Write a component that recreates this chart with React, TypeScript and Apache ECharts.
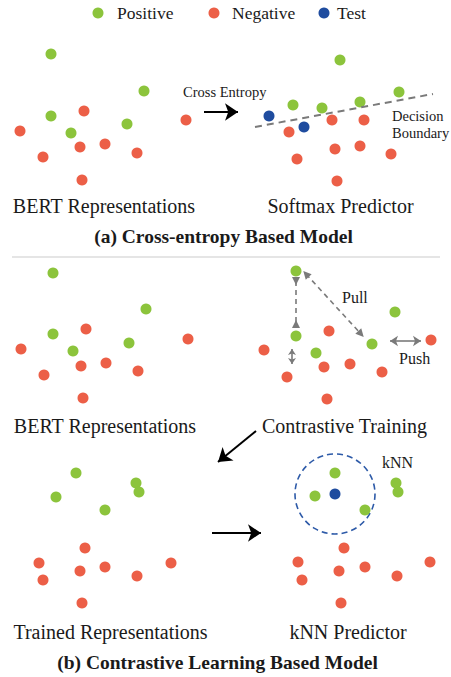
import React, { useEffect, useRef } from "react";
import * as echarts from "echarts";

// ---- data: dot positions per panel (x, y in diagram units) ----
const bertAPositive = [[51, 54], [144, 91], [51, 116], [71, 133], [127, 124]];
const bertANegative = [[84, 111], [20, 131], [80, 147], [105, 144], [43, 157], [137, 153], [82, 180], [186, 120]];
const softmaxPositive = [[340, 60], [399, 92], [293, 105], [322, 108], [360, 102]];
const softmaxNegative = [[332, 120], [364, 120], [289, 132], [335, 149], [360, 146], [297, 159], [391, 154], [337, 181]];
const softmaxTest = [[269, 116], [304, 127]];
const bertBPositive = [[53, 273], [146, 309], [53, 334], [73, 351], [129, 343]];
const bertBNegative = [[86, 329], [21, 349], [81, 366], [106, 363], [44, 375], [138, 371], [83, 398], [188, 339]];
const ctPositive = [[296, 271], [395, 312], [296, 336], [316, 353], [372, 344]];
const ctNegative = [[329, 331], [264, 350], [324, 367], [350, 364], [287, 377], [382, 372], [327, 399], [431, 340]];
const trainedPositive = [[76, 473], [56, 497], [105, 510], [136, 483], [139, 492]];
const trainedNegative = [[85, 548], [39, 563], [43, 580], [80, 571], [105, 567], [137, 576], [171, 563], [82, 603]];
const knnPositive = [[335, 473], [315, 496], [365, 510], [396, 483], [398, 492]];
const knnNegative = [[344, 548], [298, 562], [302, 580], [339, 571], [365, 567], [397, 576], [430, 562], [341, 603]];
const knnTest = [[335, 494]];

const legendNames = ["Positive", "Negative", "Test"];

// annotation segments
const blackArrows = [
  [[204, 112], [238, 112]],
  [[256, 431], [218, 462]],
  [[212, 533], [261, 533]],
];
const boundaryLine = [[[255, 127], [433, 94]]];
const pullOutArrows = [[[306, 274], [361, 334]]];
const pullInArrows = [[[296, 281], [296, 324]]];
const pushArrowsSmall = [[[292, 349], [292, 364]]];
const pushArrows = [[[390, 341], [421, 341]]];

const GREEN = "#8cc43c";
const RED = "#ec5f47";
const BLUE = "#1f4c9f";
const GRAY = "#7a7a7a";
const SERIF = "Liberation Serif";

const toML = (segs: number[][][]) => segs.map((s) => [{ coord: s[0] }, { coord: s[1] }]);

export default function App() {
  const ref = useRef<HTMLDivElement>(null);
  useEffect(() => {
    if (!ref.current) return;
    const chart = echarts.init(ref.current, null, { renderer: "svg" });

    const annot = (name: string, segs: number[][][], symbol: any, size: any, lineStyle: any) => ({
      name,
      type: "scatter",
      data: [],
      z: 1,
      silent: true,
      markLine: {
        silent: true,
        animation: false,
        symbol,
        symbolSize: size,
        label: { show: false },
        emphasis: { disabled: true },
        lineStyle,
        data: toML(segs),
      },
    });

    const txt = (text: string, x: number, y: number, size: number, align = "center", bold = false) => ({
      type: "text",
      x,
      y,
      silent: true,
      style: {
        text,
        fill: "#1a1a1a",
        font: `${bold ? "bold " : ""}${size}px "${SERIF}", serif`,
        align,
        verticalAlign: "middle",
        textAlign: align,
        textVerticalAlign: "middle",
      },
    });

    const legend = (name: string, dotX: number, gap: number) => ({
      data: [{ name, icon: "circle" }],
      left: dotX - 5.5,
      top: 4,
      padding: 0,
      itemWidth: 11,
      itemHeight: 11,
      selectedMode: false,
      textStyle: { fontFamily: SERIF, fontSize: 17.5, color: "#1a1a1a", padding: [0, 0, 0, gap] },
    });

    chart.setOption({
      animation: false,
      backgroundColor: "#ffffff",
      grid: { left: 0, right: 0, top: 0, bottom: 0, containLabel: false },
      xAxis: { type: "value", min: 0, max: 451, show: false },
      yAxis: { type: "value", min: 0, max: 677, inverse: true, show: false },
      legend: [legend(legendNames[0], 98, 8.5), legend(legendNames[1], 214, 7.5), legend(legendNames[2], 324, 2.5)],
      series: [
        {
          name: legendNames[0],
          type: "scatter",
          symbolSize: 11,
          z: 3,
          itemStyle: { color: GREEN, opacity: 1 },
          data: [...bertAPositive, ...softmaxPositive, ...bertBPositive, ...ctPositive, ...trainedPositive, ...knnPositive],
        },
        {
          name: legendNames[1],
          type: "scatter",
          symbolSize: 11,
          z: 3,
          itemStyle: { color: RED, opacity: 1 },
          data: [...bertANegative, ...softmaxNegative, ...bertBNegative, ...ctNegative, ...trainedNegative, ...knnNegative],
        },
        {
          name: legendNames[2],
          type: "scatter",
          symbolSize: 11,
          z: 3,
          itemStyle: { color: BLUE, opacity: 1 },
          data: [...softmaxTest, ...knnTest],
        },
        annot("blackArrows", blackArrows, ["none", "arrow"], 13, { color: "#000", width: 2, type: "solid" }),
        annot("boundary", boundaryLine, ["none", "none"], 1, { color: GRAY, width: 2, type: [7, 5] }),
        annot("pullOut", pullOutArrows, ["triangle", "triangle"], 8, { color: GRAY, width: 1.6, type: [5, 4] }),
        annot("pullIn", pullInArrows, ["path://M0,0L10,0L5,10Z", "path://M0,0L10,0L5,10Z"], 8, { color: GRAY, width: 1.6, type: [5, 4] }),
        annot("pushSmall", pushArrowsSmall, ["arrow", "arrow"], 6, { color: GRAY, width: 1.6, type: "solid" }),
        annot("push", pushArrows, ["arrow", "arrow"], 8, { color: GRAY, width: 1.6, type: "solid" }),
      ],
      graphic: [
        { type: "line", silent: true, shape: { x1: 12, y1: 257, x2: 440, y2: 257 }, style: { stroke: "#dddddd", lineWidth: 1.5 } },
        { type: "circle", silent: true, shape: { cx: 335, cy: 494, r: 40 }, style: { fill: "none", stroke: "#2d5aa8", lineWidth: 1.6, lineDash: [6, 4] } },
        txt("Cross Entropy", 183, 92, 14.5, "left"),
        txt("Decision", 392, 116, 14.5, "left"),
        txt("Boundary", 392, 133, 14.5, "left"),
        txt("BERT Representations", 104, 206, 20),
        txt("Softmax Predictor", 340.5, 206, 20),
        txt("(a) Cross-entropy Based Model", 223.5, 236, 19.5, "center", true),
        txt("Pull", 342, 297, 16, "left"),
        txt("Push", 399, 358, 16, "left"),
        txt("BERT Representations", 105, 426, 20),
        txt("Contrastive Training", 344.5, 426, 20),
        txt("kNN", 382, 462, 16, "left"),
        txt("Trained Representations", 110.5, 632, 20),
        txt("kNN Predictor", 348, 632, 20),
        txt("(b) Contrastive Learning Based Model", 217.5, 662, 19.5, "center", true),
      ],
    });
    return () => chart.dispose();
  }, []);
  return <div ref={ref} style={{ position: "fixed", left: 0, top: 0, width: 451, height: 677 }} />;
}
